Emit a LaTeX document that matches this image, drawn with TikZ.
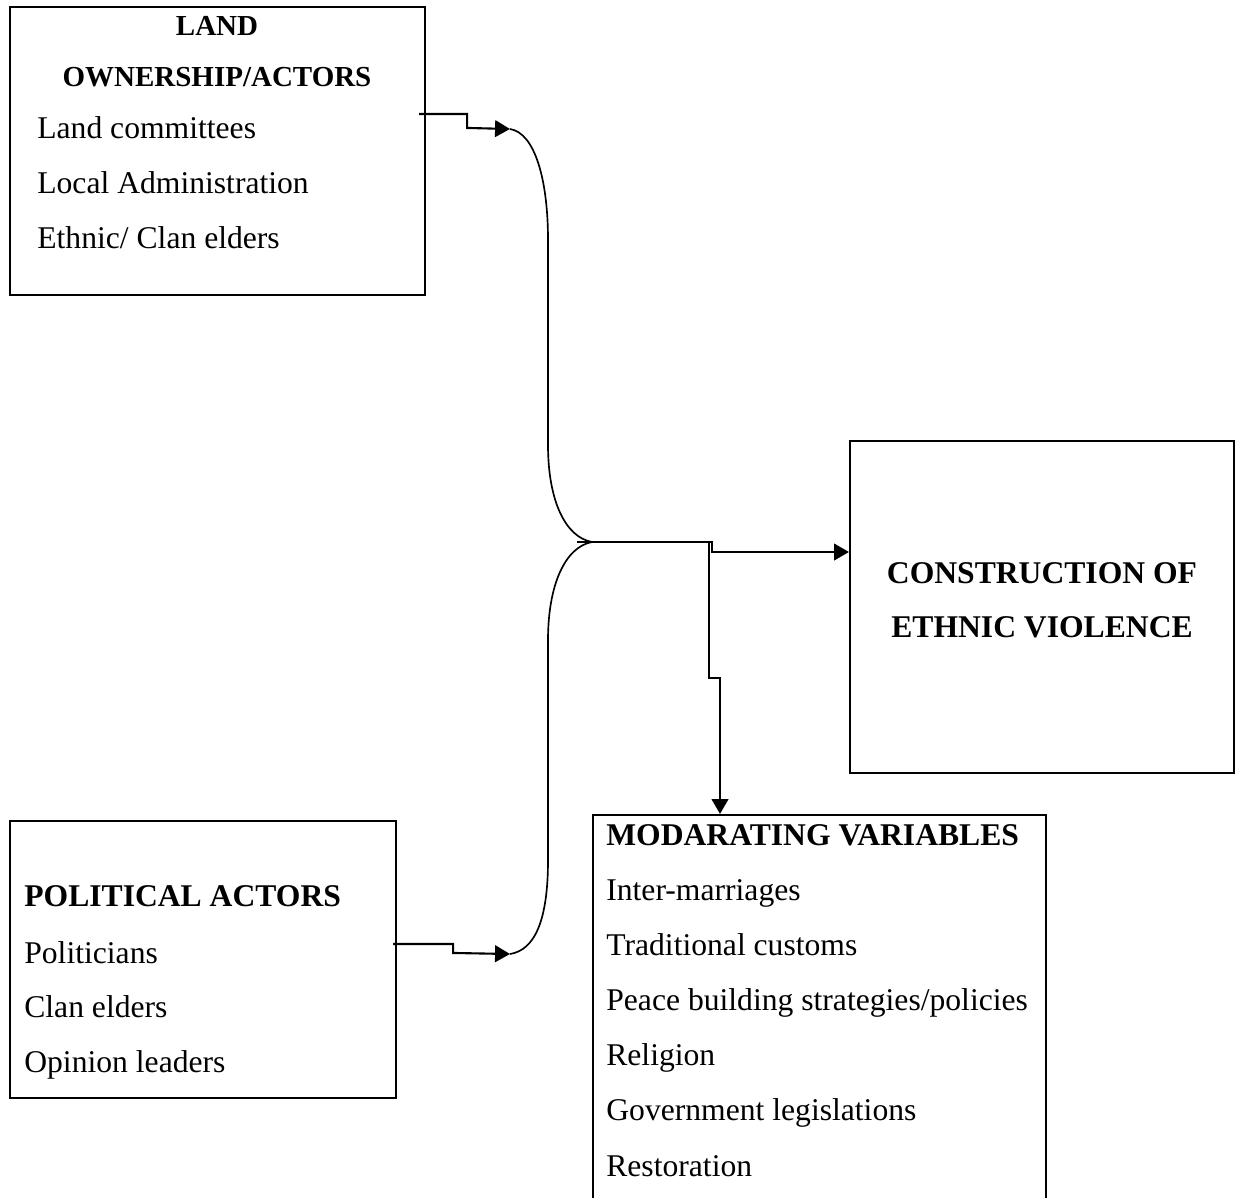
\documentclass[tikz,border=0pt]{standalone}
\usepackage{fontspec}
\setmainfont{Liberation Serif}
\usetikzlibrary{arrows.meta, positioning, fit, calc}
\tikzset{
	box/.style={draw, line width=1.2pt, inner sep=0pt},
	item/.style={inner sep=0pt, anchor=base west, font=\fontsize{18}{22}\selectfont},
	head/.style={item, font=\fontsize{18}{22}\selectfont\bfseries},
	line/.style={draw, line width=1.2pt, -{Triangle[length=8.5pt,width=9.5pt]}},
	brace/.style={draw, line width=0.95pt}
}
\begin{document}
\begin{tikzpicture}[x=0.02cm, y=-0.02cm]
	\useasboundingbox (0,0) rectangle (1243,1197);
	\clip (0,0) rectangle (1243,1197);
	
	% Boxes
	\node[box, fit={(10,7) (425,295)}] (land) {};
	\node[box, fit={(850,441) (1234,773)}] (viol) {};
	\node[box, fit={(10,821) (396,1098)}] (pol) {};
	\node[box, fit={(593,815) (1046,1240)}] (mod) {}; % runs off the page
	
	% Land ownership
	\node[head, font=\fontsize{16.5}{20}\selectfont\bfseries, anchor=base] (land-h1) at (217,35) {LAND};
	\node[head, font=\fontsize{16.5}{20}\selectfont\bfseries, anchor=base] (land-h2) at (217,86) {OWNERSHIP/ACTORS};
	\foreach \txt [count=\i] in {Land committees, Local Administration, Ethnic/ Clan elders}
	\node[item] (land-\i) at (37,{138+55*(\i-1)}) {\txt};
	
	% Outcome
	\node[head, anchor=base] (viol-1) at (1042,583) {CONSTRUCTION OF};
	\node[head, anchor=base] (viol-2) at (1042,637) {ETHNIC VIOLENCE};
	
	% Political actors
	\node[head] (pol-h) at (24,906) {POLITICAL ACTORS};
	\foreach \txt [count=\i] in {Politicians, Clan elders, Opinion leaders}
	\node[item] (pol-\i) at (24,{963+54.5*(\i-1)}) {\txt};
	
	% Moderating variables
	\node[head] (mod-h) at (606,845) {MODARATING VARIABLES};
	\foreach \txt [count=\i] in {Inter-marriages, Traditional customs, Peace building strategies/policies, Religion, Government legislations, Restoration}
	\node[item] (mod-\i) at (606,{900+55.2*(\i-1)}) {\txt};
	
	% Connections
	\coordinate (t1) at (510,129);
	\coordinate (t2) at (510,954);
	\coordinate (jt) at (592,542);
	\coordinate (jl) at (577,542);
	\coordinate (k1) at (712,552);
	\coordinate (k2) at (709,542);
	\coordinate (k3) at (720,678);
	
	\draw[line] ($(land.north east)+(-7,108)$) -- ++(48,0) -- ++(0,14) -- (t1);
	\draw[line] ($(pol.north east)+(-4,124)$) -- ++(60,0) -- ++(0,9) -- (t2);
	
	\draw[brace] (t1) .. controls (535,133) and (548,180) .. (548,240)
		-- (548,445) .. controls (548,500) and (565,537) .. (jt);
	\draw[brace] (t2) .. controls (535,950) and (548,920) .. (548,860)
		-- (548,640) .. controls (548,585) and (565,547) .. (jt);
	\draw[brace] (jl) -- (jt);
	
	\draw[line] (jt) -| (k1) -- (k1 -| viol.west);
	\draw[line] (k2) |- (k3) -- (k3 |- mod.north);
\end{tikzpicture}
\end{document}
